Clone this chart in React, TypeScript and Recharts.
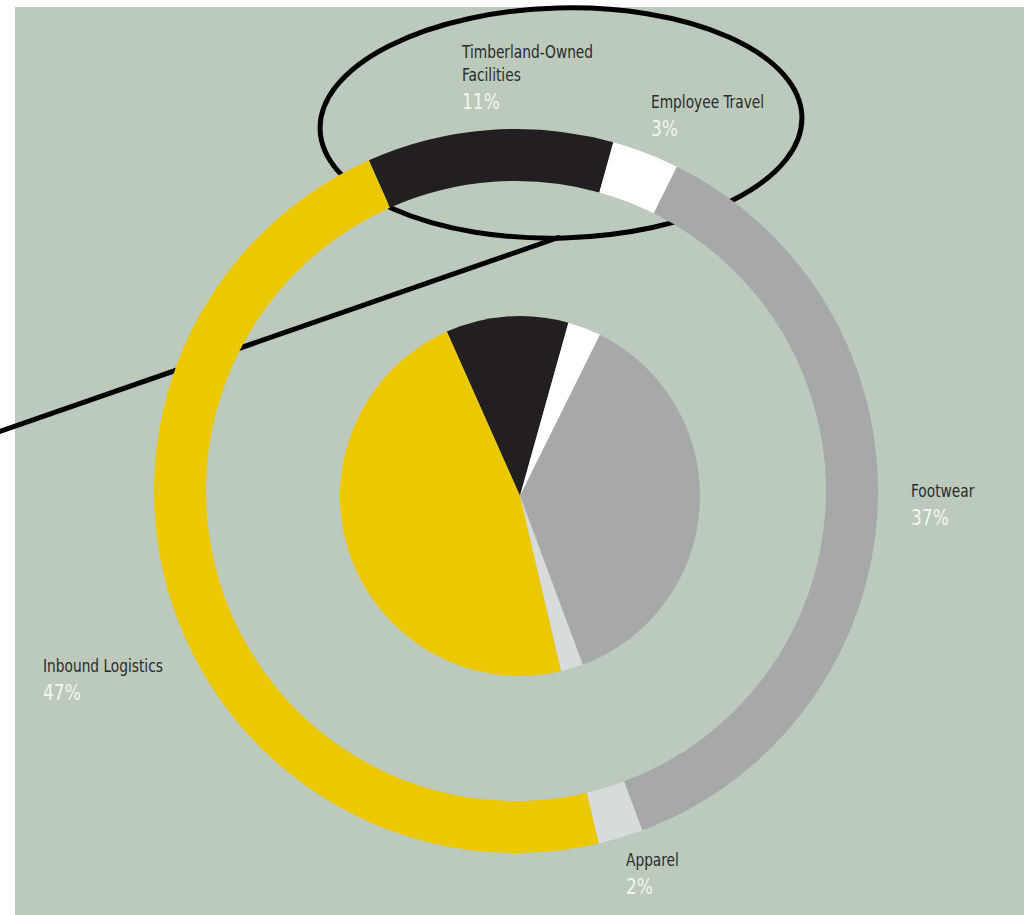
import { Cell, Customized, Pie, PieChart } from "recharts";

const categories = [
  "Timberland-Owned Facilities",
  "Employee Travel",
  "Footwear",
  "Apparel",
  "Inbound Logistics",
];
const shares = [11, 3, 37, 2, 47];
const colors = ["#231f20", "#ffffff", "#a6a8aa", "#d8dbdc", "#ecc800"];

const data = categories.map((name, i) => ({ name, value: shares[i] }));

const FONT = "'Liberation Sans Narrow', 'DejaVu Sans Condensed', 'Roboto', sans-serif";

// label layout: [x, baseline of first line]
const labelSpots: Record<string, { x: number; y: number; lines: string[] }> = {
  "Timberland-Owned Facilities": { x: 462, y: 58, lines: ["Timberland-Owned", "Facilities"] },
  "Employee Travel": { x: 651, y: 108, lines: ["Employee Travel"] },
  Footwear: { x: 911, y: 497, lines: ["Footwear"] },
  Apparel: { x: 626, y: 866, lines: ["Apparel"] },
  "Inbound Logistics": { x: 43, y: 672, lines: ["Inbound Logistics"] },
};

function Annotations() {
  return (
    <g>
      <ellipse
        cx={561}
        cy={123}
        rx={241}
        ry={115}
        fill="none"
        stroke="#000"
        strokeWidth={5}
        transform="rotate(-1.5 561 123)"
      />
      <line x1={-2} y1={432} x2={560} y2={237} stroke="#000" strokeWidth={5} />
      {data.map((d) => {
        const spot = labelSpots[d.name];
        const lineGap = 23;
        const pctY = spot.y + (spot.lines.length - 1) * lineGap + 28;
        return (
          <g key={d.name} fontFamily={FONT}>
            {spot.lines.map((ln, i) => (
              <text
                key={ln}
                transform={`translate(${spot.x} ${spot.y + i * lineGap}) scale(0.9 1)`}
                fontSize={17}
                fill="#2a2b2a"
              >
                {ln}
              </text>
            ))}
            <text
              transform={`translate(${spot.x} ${pctY}) scale(0.9 1)`}
              fontSize={21}
              fill="#f3f6f1"
            >
              {d.value}%
            </text>
          </g>
        );
      })}
    </g>
  );
}

export default function App() {
  return (
    <div
      style={{
        position: "absolute",
        top: 0,
        left: 0,
        width: 1024,
        height: 915,
        background: "#ffffff",
        overflow: "hidden",
      }}
    >
      <div
        style={{
          position: "absolute",
          left: 15,
          top: 7,
          width: 1009,
          height: 908,
          background: "#bbcabc",
        }}
      />
      <div style={{ position: "absolute", left: 0, top: 0 }}>
        <PieChart
          width={1024}
          height={915}
          margin={{ top: 0, right: 0, bottom: 0, left: 0 }}
          style={{ overflow: "visible" }}
        >
          <Pie
            data={data}
            dataKey="value"
            nameKey="name"
            cx={516}
            cy={491}
            innerRadius={310}
            outerRadius={362}
            startAngle={114}
            endAngle={-246}
            stroke="none"
            isAnimationActive={false}
          >
            {data.map((d, i) => (
              <Cell key={d.name} fill={colors[i]} />
            ))}
          </Pie>
          <Pie
            data={data}
            dataKey="value"
            nameKey="name"
            cx={520}
            cy={496}
            outerRadius={180}
            startAngle={114}
            endAngle={-246}
            stroke="none"
            isAnimationActive={false}
          >
            {data.map((d, i) => (
              <Cell key={d.name} fill={colors[i]} />
            ))}
          </Pie>
          <Customized component={Annotations} />
        </PieChart>
      </div>
    </div>
  );
}
